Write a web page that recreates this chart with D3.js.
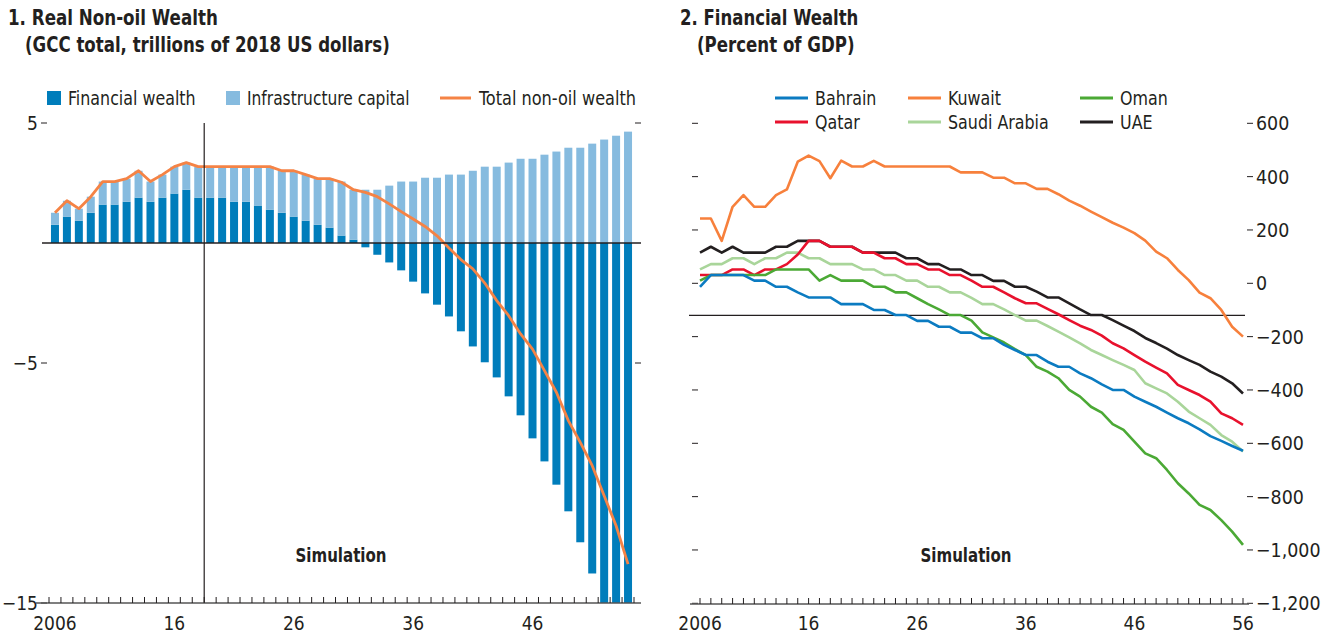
<!DOCTYPE html>
<html><head><meta charset="utf-8">
<script src="https://cdn.jsdelivr.net/npm/d3@7"></script>
<style>
body{margin:0;background:#fff;}
text{font-family:"Liberation Sans Narrow","Arial Narrow","DejaVu Sans Condensed",sans-serif;fill:#231f20;}
</style></head><body>
<svg id="c" width="1323" height="635"></svg>
<script>
// ---------- Panel 1 data ----------
const years1 = d3.range(2006, 2055);
const financial = [0.76,1.10,0.93,1.26,1.60,1.60,1.72,1.89,1.72,1.89,2.06,2.22,1.89,1.89,1.89,1.72,1.72,1.56,1.39,1.26,1.10,0.93,0.76,0.64,0.31,0.14,-0.18,-0.49,-0.81,-1.14,-1.61,-2.10,-2.57,-3.06,-3.68,-4.31,-4.97,-5.60,-6.39,-7.18,-8.14,-9.10,-10.07,-11.18,-12.47,-13.77,-15.1,-16.3,-18.0];
const infrastructure = [0.50,0.66,0.50,0.67,0.96,0.96,0.96,1.12,0.84,0.96,1.12,1.13,1.29,1.29,1.29,1.46,1.46,1.62,1.79,1.75,1.91,1.92,1.92,2.04,2.25,2.08,2.22,2.22,2.39,2.56,2.56,2.72,2.72,2.85,2.85,3.01,3.18,3.18,3.35,3.51,3.51,3.68,3.81,3.97,3.97,4.14,4.31,4.47,4.64];
const totalWealth = [1.26,1.76,1.43,1.93,2.56,2.56,2.68,3.01,2.56,2.85,3.18,3.35,3.18,3.18,3.18,3.18,3.18,3.18,3.18,3.01,3.01,2.85,2.68,2.68,2.53,2.22,2.11,1.93,1.63,1.31,1.00,0.69,0.30,-0.21,-0.69,-1.08,-1.67,-2.40,-3.03,-3.79,-4.42,-5.32,-6.22,-7.40,-8.31,-9.28,-10.53,-11.78,-13.38];
const yTicks1 = [5, -5, -15];
const xLabels1 = {2006:"2006",2016:"16",2026:"26",2036:"36",2046:"46"};
const simStart = 2019;

// ---------- Panel 2 data ----------
const years2 = d3.range(2006, 2057);
const bahrain = [-13,31,31,31,31,10,10,-13,-13,-34,-53,-53,-53,-78,-78,-78,-100,-100,-119,-119,-141,-141,-163,-163,-185,-185,-206,-206,-231,-250,-269,-269,-294,-313,-313,-338,-356,-379,-400,-400,-425,-444,-463,-485,-506,-525,-548,-573,-591,-610,-628];
const kuwait = [243,243,159,287,331,287,287,331,352,456,479,458,394,460,438,438,459,438,438,438,438,438,438,438,416,416,416,396,396,375,375,354,354,334,310,291,269,248,227,209,188,160,119,94,50,12,-35,-56,-100,-163,-200];
const oman = [10,31,31,31,31,31,31,52,52,52,52,10,31,10,10,10,-13,-13,-34,-34,-56,-78,-98,-119,-119,-140,-184,-203,-222,-247,-269,-313,-331,-356,-400,-425,-463,-485,-528,-550,-594,-638,-656,-700,-750,-788,-831,-850,-888,-931,-981];
const qatar = [31,31,31,52,52,31,52,52,72,108,159,159,137,137,137,115,115,94,94,72,72,52,52,31,31,10,-13,-13,-34,-56,-75,-75,-96,-116,-138,-159,-175,-196,-225,-244,-269,-294,-316,-338,-381,-400,-419,-444,-488,-506,-531];
const saudi = [52,72,72,94,94,72,94,94,115,115,94,94,72,72,72,52,52,31,31,10,10,-13,-13,-34,-34,-55,-78,-78,-98,-119,-140,-140,-160,-181,-203,-225,-250,-269,-288,-306,-325,-375,-394,-413,-444,-481,-506,-531,-569,-594,-631];
const uae = [115,137,115,137,115,115,115,137,137,159,159,159,137,137,137,115,115,115,115,94,94,72,72,52,52,31,31,9,9,-13,-13,-31,-53,-53,-75,-98,-119,-119,-138,-159,-179,-205,-224,-245,-269,-288,-306,-331,-350,-375,-413];
const countries = ["Bahrain","Kuwait","Oman","Qatar","Saudi Arabia","UAE"];
const countryValues = [bahrain, kuwait, oman, qatar, saudi, uae];
const countryColors = ["#0b7bc1","#f7803c","#4ba935","#e8112d","#a9d59a","#231f20"];
const yTicks2 = [600,400,200,0,-200,-400,-600,-800,-1000,-1200];
const xLabels2 = {2006:"2006",2016:"16",2026:"26",2036:"36",2046:"46",2056:"56"};
const refLine2 = -120;

const colFin = "#007dbb", colInfra = "#86bbdf", colTotal = "#f58345", ink = "#231f20";
const fmt = v => d3.format(",")(v).replace("-", "\u2013");

const svg = d3.select("#c");

// text helper with horizontal condensing
function txt(g, x, y, str, size, opt = {}) {
  const sx = opt.sx || 1;
  return g.append("text")
    .attr("transform", `translate(${x},${y}) scale(${sx},1)`)
    .attr("font-size", size)
    .attr("font-weight", opt.bold ? "bold" : null)
    .attr("text-anchor", opt.anchor || "start")
    .text(str);
}

// ================= Panel 1 =================
const x1 = d3.scaleBand().domain(years1).range([49, 634]).paddingInner(0.33).paddingOuter(0.165);
const y1 = d3.scaleLinear().domain([-15, 5]).range([603, 123]);
const p1 = svg.append("g");
svg.append("clipPath").attr("id","clip1").append("rect")
  .attr("x", 40).attr("y", y1(5)).attr("width", 600).attr("height", y1(-15) - y1(5));

// titles
txt(p1, 8, 25, "1. Real Non-oil Wealth", 21, {bold: true, sx: 0.885});
txt(p1, 25, 52, "(GCC total, trillions of 2018 US dollars)", 21, {bold: true, sx: 0.88});

// legend
p1.append("rect").attr("x", 47).attr("y", 91).attr("width", 14).attr("height", 14).attr("fill", colFin);
txt(p1, 68, 105, "Financial wealth", 19, {sx: 0.93});
p1.append("rect").attr("x", 226).attr("y", 91).attr("width", 14).attr("height", 14).attr("fill", colInfra);
txt(p1, 247, 105, "Infrastructure capital", 19, {sx: 0.905});
p1.append("line").attr("x1", 440).attr("x2", 471).attr("y1", 98).attr("y2", 98).attr("stroke", colTotal).attr("stroke-width", 3);
txt(p1, 479, 105, "Total non-oil wealth", 19, {sx: 0.945});

// bars
const barsG = p1.append("g").attr("clip-path", "url(#clip1)");
years1.forEach((yr, i) => {
  const f = financial[i], inf = infrastructure[i];
  barsG.append("rect").attr("x", x1(yr)).attr("width", x1.bandwidth())
    .attr("y", y1(Math.max(0, f))).attr("height", Math.abs(y1(f) - y1(0))).attr("fill", colFin);
  const base = Math.max(0, f);
  barsG.append("rect").attr("x", x1(yr)).attr("width", x1.bandwidth())
    .attr("y", y1(base + inf)).attr("height", y1(base) - y1(base + inf)).attr("fill", colInfra);
});

// zero line
p1.append("line").attr("x1", 42).attr("x2", 641).attr("y1", y1(0)).attr("y2", y1(0)).attr("stroke", ink).attr("stroke-width", 1.3);
// simulation divider
const divX = x1(simStart) - x1.step() * x1.paddingInner() / 2;
p1.append("line").attr("x1", divX).attr("x2", divX).attr("y1", y1(5)).attr("y2", y1(-15)).attr("stroke", ink).attr("stroke-width", 1.2);

// total line
const line1 = d3.line().x((d, i) => x1(years1[i]) + x1.bandwidth() / 2).y(d => y1(d));
barsG.append("path").datum(totalWealth).attr("d", line1).attr("fill", "none").attr("stroke", colTotal).attr("stroke-width", 2.8).attr("stroke-linejoin", "round");

// y axis ticks & labels
yTicks1.forEach(v => {
  p1.append("line").attr("x1", 41).attr("x2", 47).attr("y1", y1(v)).attr("y2", y1(v)).attr("stroke", ink).attr("stroke-width", 1);
  if (v !== -15) p1.append("line").attr("x1", 635).attr("x2", 641).attr("y1", y1(v)).attr("y2", y1(v)).attr("stroke", ink).attr("stroke-width", 1);
  txt(p1, 38, y1(v) + 7, fmt(v), 20, {anchor: "end", sx: 0.95});
});
// x axis
p1.append("line").attr("x1", 36).attr("x2", 641).attr("y1", 603).attr("y2", 603).attr("stroke", "#555").attr("stroke-width", 1.6);
const bounds1 = years1.map(yr => x1(yr) - x1.step() * x1.paddingInner() / 2).concat([x1(2054) + x1.bandwidth() + x1.step() * x1.paddingInner() / 2]);
bounds1.forEach(bx => p1.append("line").attr("x1", bx).attr("x2", bx).attr("y1", 603).attr("y2", 597).attr("stroke", ink).attr("stroke-width", 1));
Object.keys(xLabels1).forEach(k => {
  txt(p1, x1(+k) + x1.bandwidth() / 2, 630, xLabels1[k], 20, {anchor: "middle", sx: 0.95});
});
txt(p1, 341, 562, "Simulation", 19, {anchor: "middle", bold: true, sx: 0.88});

// ================= Panel 2 =================
const x2 = d3.scaleLinear().domain([2006, 2056]).range([700, 1243]);
const y2 = d3.scaleLinear().domain([-1200, 600]).range([603.3, 123.3]);
const p2 = svg.append("g");
txt(p2, 680, 25, "2. Financial Wealth", 21, {bold: true, sx: 0.875});
txt(p2, 697, 52, "(Percent of GDP)", 21, {bold: true, sx: 0.88});

// legend
const legPos = [[775,98],[908,98],[1080,98],[775,122],[908,122],[1080,122]];
countries.forEach((c, i) => {
  const [lx, ly] = legPos[i];
  p2.append("line").attr("x1", lx).attr("x2", lx + 33).attr("y1", ly).attr("y2", ly).attr("stroke", countryColors[i]).attr("stroke-width", 3);
  txt(p2, lx + 40, ly + 7, c, 19, {sx: 0.93});
});

// y ticks
yTicks2.forEach(v => {
  p2.append("line").attr("x1", 692).attr("x2", 698).attr("y1", y2(v)).attr("y2", y2(v)).attr("stroke", ink).attr("stroke-width", 1);
  p2.append("line").attr("x1", 1247).attr("x2", 1253).attr("y1", y2(v)).attr("y2", y2(v)).attr("stroke", ink).attr("stroke-width", 1);
  txt(p2, 1256, y2(v) + 7, fmt(v), 20, {sx: 0.97});
});
// reference line
p2.append("line").attr("x1", 689).attr("x2", 1245).attr("y1", y2(refLine2)).attr("y2", y2(refLine2)).attr("stroke", ink).attr("stroke-width", 1.2);

// lines
const line2 = d3.line().x((d, i) => x2(years2[i])).y(d => y2(d));
[5, 4, 3, 1, 2, 0].forEach(i => {
  p2.append("path").datum(countryValues[i]).attr("d", line2).attr("fill", "none")
    .attr("stroke", countryColors[i]).attr("stroke-width", 2.6).attr("stroke-linejoin", "round");
});

// x axis
p2.append("line").attr("x1", 690).attr("x2", 1249).attr("y1", 604).attr("y2", 604).attr("stroke", "#555").attr("stroke-width", 1.6);
years2.forEach(yr => p2.append("line").attr("x1", x2(yr)).attr("x2", x2(yr)).attr("y1", 604).attr("y2", 598).attr("stroke", ink).attr("stroke-width", 1));
Object.keys(xLabels2).forEach(k => {
  txt(p2, x2(+k), 630, xLabels2[k], 20, {anchor: "middle", sx: 0.95});
});
txt(p2, 966, 562, "Simulation", 19, {anchor: "middle", bold: true, sx: 0.88});
</script>
</body></html>
